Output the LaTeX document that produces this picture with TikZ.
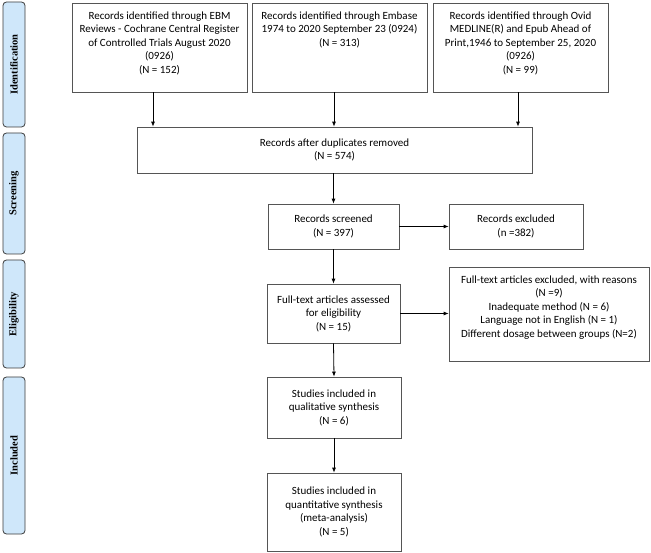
\documentclass[tikz,border=0pt]{standalone}
\usepackage{fontspec}
\setmainfont{Carlito}
\newfontfamily\barfont{Liberation Serif}
\usetikzlibrary{arrows.meta}
\definecolor{barblue}{HTML}{CFE7FA}
\definecolor{bardraw}{HTML}{3C3C3C}
\definecolor{boxdraw}{HTML}{555555}
\newcommand{\boxfont}{\fontsize{11}{13.5}\selectfont}
\tikzset{
  phase/.style={draw=bardraw, fill=barblue, rounded corners=3.5pt, line width=0.8pt,
    rotate=90, minimum height=22pt, inner sep=0pt, font=\barfont\bfseries\fontsize{10.5}{12}\selectfont},
  box/.style={draw=boxdraw, line width=0.7pt, inner sep=0pt, align=center, font=\boxfont},
  toptext/.style={label={[anchor=north, yshift=-9pt, inner sep=0pt, align=center, font=\boxfont]north:{#1}}},
  arr/.style={-{Latex[length=5pt,width=4pt]}, line width=0.8pt}
}
\begin{document}
\begin{tikzpicture}[x=1pt, y=-1pt]
\useasboundingbox (0,0) rectangle (651,553);
% phases
\node[phase, minimum width=125pt] (ident) at (14,64.5) {Identification};
\node[phase, minimum width=121pt] (screen) at (14,193.5) {Screening};
\node[phase, minimum width=108pt] (elig) at (14,314) {Eligibility};
\node[phase, minimum width=157pt] (incl) at (14,455.5) {Included};
% identification
\node[box, minimum width=175pt, minimum height=89pt,
  toptext={Records identified through EBM\\Reviews - Cochrane Central Register\\of Controlled Trials August 2020\\(0926)\\(N = 152)}]
  (ebm) at (159.5,47.5) {};
\node[box, minimum width=175pt, minimum height=89pt,
  toptext={Records identified through Embase\\1974 to 2020 September 23 (0924)\\(N = 313)}]
  (embase) at (339.5,47.5) {};
\node[box, minimum width=175pt, minimum height=89pt,
  toptext={Records identified through Ovid\\MEDLINE(R) and Epub Ahead of\\Print,1946 to September 25, 2020\\(0926)\\(N = 99)}]
  (ovid) at (520.5,47.5) {};
% screening
\node[box, minimum width=395pt, minimum height=46pt] (dup) at (334.5,150)
  {Records after duplicates removed\\(N = 574)};
\node[box, minimum width=131pt, minimum height=45pt] (scr) at (333.5,226.5)
  {Records screened\\(N = 397)};
\node[box, minimum width=134pt, minimum height=45pt] (excl) at (516,226.5)
  {Records excluded\\(n =382)};
% eligibility
\node[box, minimum width=133pt, minimum height=59pt] (full) at (333.5,313.5)
  {Full-text articles assessed\\for eligibility\\(N = 15)};
\node[box, minimum width=200pt, minimum height=94pt,
  toptext={Full-text articles excluded, with reasons\\(N =9)\\Inadequate method (N = 6)\\Language not in English (N = 1)\\Different dosage between groups (N=2)}]
  (fullex) at (549,314) {};
% included
\node[box, minimum width=134pt, minimum height=61pt] (qual) at (334,407.5)
  {Studies included in\\qualitative synthesis\\(N = 6)};
\node[box, minimum width=134pt, minimum height=78pt] (quant) at (334,512)
  {Studies included in\\quantitative synthesis\\(meta-analysis)\\(N = 5)};
% arrows
\draw[arr] ([xshift=-6.5pt]ebm.south) -- ([xshift=-6.5pt]ebm.south |- dup.north);
\draw[arr] ([xshift=-5.5pt]embase.south) -- ([xshift=-5.5pt]embase.south |- dup.north);
\draw[arr] ([xshift=-2.5pt]ovid.south) -- ([xshift=-2.5pt]ovid.south |- dup.north);
\draw[arr] (dup.south -| scr.north) -- (scr.north);
\draw[arr] (scr.east) -- (excl.west);
\draw[arr] (scr.south) -- (full.north);
\draw[arr] (full.east) -- (full.east -| fullex.west);
\draw[arr] (full.south) -- (qual.north);
\draw[arr] (qual.south) -- (quant.north);
\end{tikzpicture}
\end{document}
